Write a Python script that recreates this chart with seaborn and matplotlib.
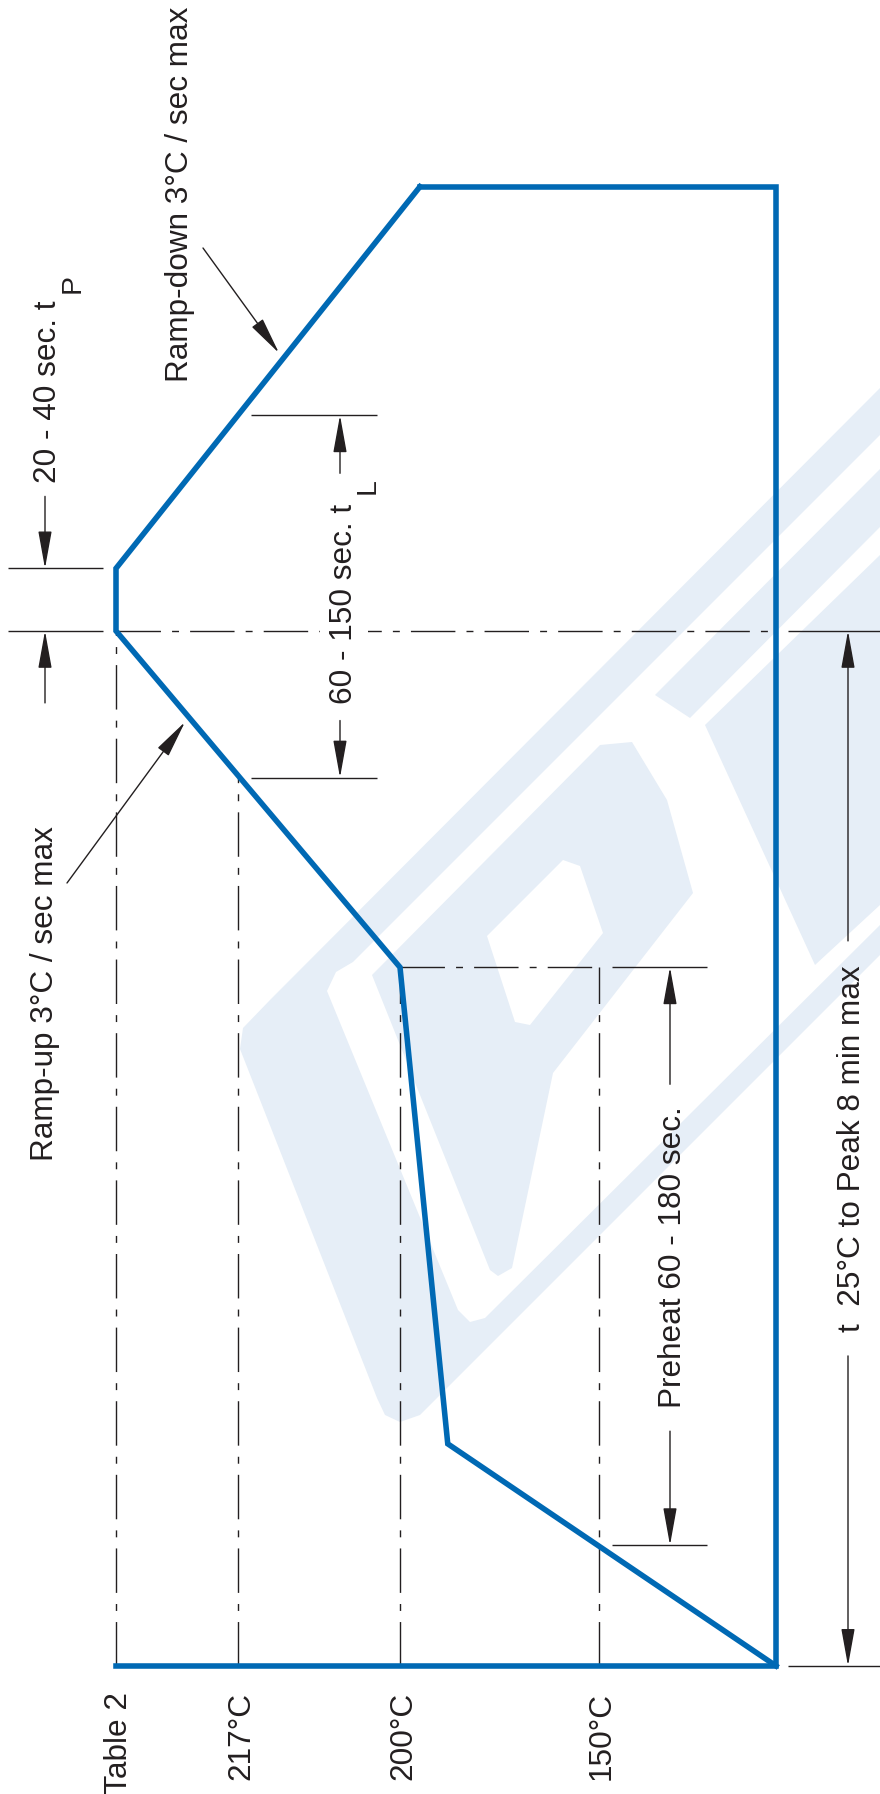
import numpy as np
import matplotlib
matplotlib.use("Agg")
import matplotlib.pyplot as plt
import matplotlib.transforms as mtransforms
from matplotlib.patches import Polygon
import seaborn as sns

sns.set_theme(style="white")
plt.rcParams['font.family'] = ['Liberation Sans', 'DejaVu Sans']
plt.rcParams['lines.scale_dashes'] = False

# reflow profile: time (s) and temperature (deg C) at the corners
profile_time = [0, 103, 324, 480, 509, 686]
profile_temp = [25, 188, 200, 260, 260, 195]

# temperature levels drawn as dash-dot lines, labelled at the bottom
level_temp = [260, 217, 200, 150]
level_label = ["Table 2", "217°C", "200°C", "150°C"]
level_top = [480, 412, 324, 324]   # time where each level meets the profile

room_temp = 25
t_preheat = [56, 324]     # 150 -> 200 deg C
t_liquidus = [412, 580]   # above 217 deg C
t_peak = [480, 509]       # at peak temperature

BLUE = '#0069b4'
INK = '#231f20'
WM = '#e6eef7'
FS = 22.7
SUB = 20.5
DASHDOT = (0, (32, 8, 5, 8))

# schematic (not to scale) temperature axis
temp_anchor = [-200, 25, 150, 200, 217, 260, 400]
pos_anchor = [-318.6, 0, 177, 376, 538, 660, 1057.2]


def fwd(v):
    return np.interp(v, temp_anchor, pos_anchor)


def inv(p):
    return np.interp(p, pos_anchor, temp_anchor)


fig = plt.figure(figsize=(8.8, 17.94), dpi=100)

# background watermark, pixel coordinates
bg = fig.add_axes([0, 0, 1, 1])
bg.set_xlim(0, 880)
bg.set_ylim(1794, 0)
bg.axis('off')
wm_shapes = [
    ([(240, 1049), (243, 1028), (270, 1000), (880, 388), (880, 955), (420, 1415),
      (400, 1422), (385, 1415), (377, 1398)], WM),
    ([(327, 991), (336, 972), (353, 962), (880, 435), (880, 925), (485, 1318),
      (470, 1322), (458, 1310)], 'white'),
    ([(372, 975), (600, 745), (632, 742), (667, 800), (693, 893), (553, 1073),
      (512, 1268), (498, 1276), (490, 1270)], WM),
    ([(487, 936), (563, 860), (580, 866), (603, 933), (530, 1025), (515, 1022)], 'white'),
    ([(655, 695), (880, 469), (880, 527), (690, 718)], WM),
    ([(705, 725), (880, 555), (880, 905), (815, 965)], WM),
]
for pts, c in wm_shapes:
    bg.add_patch(Polygon(pts, closed=True, facecolor=c, edgecolor='none'))

# data axes: x = temperature (high on the left), y = time (upwards)
ax = fig.add_axes([0, 0, 1, 1])
ax.axis('off')

sns.lineplot(x=profile_temp, y=profile_time, sort=False, estimator=None,
             color=BLUE, lw=4.0, ax=ax, zorder=5)
frame_temp = [level_temp[0], room_temp, room_temp, profile_temp[-1]]
frame_time = [0, 0, profile_time[-1], profile_time[-1]]
sns.lineplot(x=frame_temp, y=frame_time, sort=False, estimator=None,
             color=BLUE, lw=4.0, ax=ax, zorder=5)
for ln in ax.lines:
    ln.set_solid_joinstyle('miter')
    ln.set_solid_capstyle('projecting')

ax.set_xscale('function', functions=(fwd, inv))
ax.set_xlim(inv(776), inv(-104))
ax.set_ylim(-59.4, 772.6)
ax.axis('off')

ax.vlines(level_temp, 0, level_top, colors=INK, linestyles=[DASHDOT], lw=1.0, zorder=3)
ax.hlines(t_preheat[1], level_temp[2], level_temp[3], colors=INK, linestyles=[DASHDOT], lw=1.0, zorder=3)
ax.hlines(t_peak[0], level_temp[0], room_temp, colors=INK, linestyles=[DASHDOT], lw=1.0, zorder=3)

for temp, lab in zip(level_temp, level_label):
    ax.annotate(lab, xy=(temp, 0), xycoords='data', xytext=(8, -19), textcoords='offset points',
                rotation=90, rotation_mode='anchor', ha='right', va='baseline',
                fontsize=FS, color=INK)

# overlay for dimensions and notes: x in pixels, y in pixels or in time
ov = fig.add_axes([0, 0, 1, 1])
ov.set_xlim(0, 880)
ov.set_ylim(1794, 0)
ov.axis('off')
bt = mtransforms.blended_transform_factory(ov.transData, ax.transData)


def ext_line(x0, x1, t):
    ov.plot([x0, x1], [t, t], color=INK, lw=1.0, transform=bt, solid_capstyle='butt')


def dim_arrow(x, t, tail_px):
    ov.annotate('', xy=(x, t), xycoords=bt, xytext=(0, tail_px * 0.72), textcoords='offset points',
                arrowprops=dict(arrowstyle='-|>,head_length=1.55,head_width=0.28', mutation_scale=15,
                                lw=1.0, color=INK, shrinkA=0, shrinkB=0))


def vtext(x, y, s, ha='center', size=FS, **kw):
    ov.text(x, y, s, rotation=90, rotation_mode='anchor', ha=ha, va='baseline',
            fontsize=size, color=INK, **kw)


# t_P : time at peak
for t in t_peak:
    ext_line(8, 103, t)
dim_arrow(45, t_peak[1], 72)
dim_arrow(45, t_peak[0], -72)
vtext(56, 392, "20 - 40 sec. t")
vtext(80, 293, "P", ha='left', size=SUB)

# t_L : time above liquidus
for t in t_liquidus:
    ext_line(251, 377, t)
dim_arrow(340, t_liquidus[1], -58)
dim_arrow(340, t_liquidus[0], 57)
vtext(352, 604, "60 - 150 sec. t",
      bbox=dict(boxstyle='square,pad=0.3', facecolor='white', edgecolor='none'))
vtext(375, 494, "L", ha='left', size=SUB)

# preheat
for t in t_preheat:
    ext_line(612, 707, t)
dim_arrow(670, t_preheat[1], -117)
dim_arrow(670, t_preheat[0], 114)
vtext(681, 1257, "Preheat 60 - 180 sec.")

# 25 deg C to peak
ext_line(788, 880, 0)
ext_line(788, 880, t_peak[0])
dim_arrow(848, t_peak[0], -310)
dim_arrow(848, 0, 310)
vtext(860, 1149, "t  25°C to Peak 8 min max")

# ramp notes with leaders
leader = dict(arrowstyle='-|>,head_length=1.55,head_width=0.28', mutation_scale=15,
              lw=1.0, color=INK, shrinkA=0, shrinkB=0)
ov.annotate('', xy=(279, 353), xytext=(203, 248), arrowprops=leader)
vtext(188, 382, "Ramp-down 3°C / sec max", ha='left')
ov.annotate('', xy=(185, 722), xytext=(67, 883), arrowprops=leader)
vtext(53, 994, "Ramp-up 3°C / sec max")

fig.savefig('out.png', dpi=100, facecolor='white')
